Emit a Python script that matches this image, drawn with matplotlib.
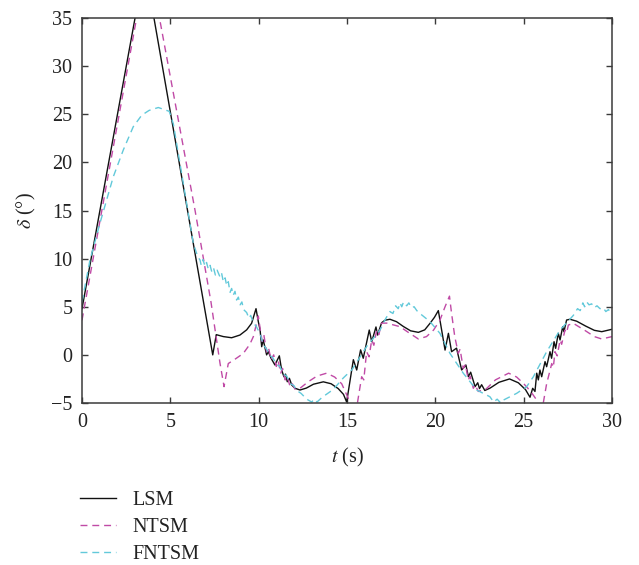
import matplotlib
matplotlib.use("Agg")
import matplotlib.pyplot as plt

plt.rcParams["font.family"] = ["Liberation Serif", "DejaVu Serif"]
plt.rcParams["mathtext.fontset"] = "stix"

# LSM response
lsm_t = [0.0, 3.55, 7.40, 7.60, 8.00, 8.47, 8.94, 9.32, 9.60, 9.85, 9.98, 10.08, 10.17, 10.26,
         10.45, 10.55, 10.70, 10.92, 11.17, 11.30, 11.43, 11.52, 11.62, 11.74, 11.87, 12.06,
         12.34, 12.70, 13.10, 13.66, 14.10, 14.50, 14.80, 14.98, 15.36, 15.55, 15.77, 15.92,
         16.26, 16.40, 16.64, 16.73, 16.96, 17.15, 17.43, 17.80, 18.19, 18.60, 19.04, 19.40,
         19.70, 19.95, 20.17, 20.55, 20.74, 20.92, 21.20, 21.49, 21.73, 21.87, 22.00, 22.25,
         22.40, 22.50, 22.62, 22.80, 23.10, 23.60, 24.20, 24.70, 25.10, 25.36, 25.51, 25.64,
         25.74, 25.83, 25.92, 26.02, 26.21, 26.30, 26.49, 26.58, 26.72, 26.81, 26.96, 27.06,
         27.21, 27.28, 27.43, 27.62, 28.00, 28.50, 29.00, 29.42, 30.00]
lsm_v = [4.8, 40.5, 0.0, 2.1, 1.9, 1.78, 2.06, 2.6, 3.28, 4.8, 3.45, 2.6, 0.85, 1.55,
         0.0, 0.33, -0.35, -1.05, -0.1, -1.57, -2.27, -2.0, -2.79, -2.44, -3.13, -3.47,
         -3.65, -3.45, -3.05, -2.8, -3.0, -3.5, -4.1, -4.9, -0.5, -1.57, 0.52, -0.35,
         2.58, 1.37, 2.9, 2.06, 3.34, 3.6, 3.7, 3.45, 2.95, 2.5, 2.34, 2.6,
         3.28, 3.9, 4.6, 0.5, 2.24, 0.33, 0.7, -1.57, -1.05, -2.27, -1.8, -3.3,
         -2.9, -3.5, -3.1, -3.7, -3.45, -2.85, -2.5, -2.9, -3.6, -4.4, -3.47, -3.8,
         -1.9, -2.6, -1.57, -2.27, -0.7, -1.23, 0.33, -0.35, 1.37, 0.68, 2.24, 1.55,
         2.93, 2.41, 3.62, 3.7, 3.5, 3.0, 2.55, 2.41, 2.66]

# NTSM response
ntsm_t = [0.0, 3.73, 6.40, 7.30, 7.81, 8.04, 8.28, 8.70, 9.13, 9.50, 9.70, 9.98, 10.10, 10.20,
          10.30, 10.45, 10.55, 10.70, 10.85, 11.00, 11.10, 11.25, 11.35, 11.50, 11.60, 11.75,
          11.85, 12.06, 12.34, 12.80, 13.30, 13.85, 14.30, 14.70, 15.07, 15.35, 15.59, 15.83,
          15.95, 16.11, 16.25, 16.40, 16.52, 16.68, 16.80, 16.96, 17.25, 18.00, 18.50, 19.04,
          19.50, 19.90, 20.26, 20.55, 20.80, 20.92, 21.10, 21.30, 21.40, 21.58, 21.70, 21.87,
          21.97, 22.15, 22.25, 22.43, 22.90, 23.40, 24.15, 24.60, 24.98, 25.40, 25.74, 25.92,
          26.11, 26.30, 26.59, 26.68, 26.77, 26.90, 27.06, 27.15, 27.34, 27.43, 27.53, 27.81,
          28.50, 29.00, 29.42, 30.00]
ntsm_v = [3.6, 41.5, 15.0, 5.5, -0.85, -3.3, -0.9, -0.4, 0.15, 1.1, 1.9, 4.04, 2.5, 1.4,
          2.0, 0.3, 0.8, -0.5, 0.0, -1.2, -0.6, -1.9, -1.4, -2.6, -2.2, -3.1,
          -2.8, -3.57, -3.47, -2.8, -2.2, -1.9, -2.3, -3.0, -4.5, -6.8, -5.0, -2.27,
          -2.6, 0.33, -0.2, 1.55, 1.0, 2.58, 2.1, 3.3, 3.3, 2.93, 2.3, 1.65,
          1.9, 2.58, 3.6, 5.0, 6.1, 4.3, 1.9, 0.15, 0.6, -1.4, -1.0, -2.6,
          -2.2, -3.47, -3.1, -3.8, -3.5, -2.6, -1.9, -2.3, -2.95, -3.8, -4.7, -6.8,
          -5.0, -3.0, -0.9, -1.3, 0.33, -0.1, 1.55, 1.1, 2.58, 2.3, 3.1, 3.28,
          2.5, 1.9, 1.65, 1.9]

# FNTSM response
fntsm_t = [0.0, 0.45, 1.02, 1.77, 2.34, 2.90, 3.38, 3.80, 4.32, 4.94, 5.17, 6.30, 6.55, 6.68,
           6.75, 6.85, 6.96, 7.05, 7.15, 7.25, 7.35, 7.45, 7.55, 7.65, 7.81, 7.90, 8.00, 8.10,
           8.19, 8.28, 8.38, 8.47, 8.56, 8.66, 8.75, 8.85, 8.95, 9.05, 9.15, 9.32, 9.45, 9.55,
           9.70, 9.85, 10.08, 10.25, 10.45, 10.60, 10.80, 11.02, 11.20, 11.40, 11.59, 11.80,
           12.00, 12.15, 12.40, 12.72, 13.00, 13.15, 13.30, 13.60, 14.22, 14.79, 15.30, 16.11,
           16.87, 17.20, 17.43, 17.60, 17.75, 17.90, 18.00, 18.10, 18.20, 18.38, 18.50, 18.65,
           18.80, 18.95, 19.13, 19.70, 20.26, 20.83, 21.58, 22.34, 23.09, 23.30, 23.50, 23.70,
           23.85, 24.60, 25.17, 25.55, 26.30, 27.06, 27.81, 28.05, 28.20, 28.35, 28.45, 28.57,
           28.70, 28.85, 29.00, 29.15, 29.32, 29.50, 29.65, 29.80, 29.98]
fntsm_v = [5.5, 9.85, 13.7, 18.5, 21.3, 23.7, 24.9, 25.4, 25.7, 25.3, 24.0, 11.6, 10.2, 9.85,
           9.3, 9.9, 9.2, 9.6, 8.9, 9.3, 8.6, 9.0, 8.3, 8.8, 8.1, 8.5, 7.6, 8.0,
           7.2, 7.6, 6.5, 6.9, 6.2, 6.6, 5.7, 6.0, 5.2, 5.5, 4.7, 4.4, 3.8, 4.1,
           3.3, 3.0, 2.2, 1.1, 0.6, 0.0, -0.3, -1.0, -1.2, -2.0, -2.2, -3.0,
           -3.2, -3.7, -4.0, -4.6, -4.9, -4.6, -4.9, -4.4, -3.6, -2.4, -1.5, 0.87,
           2.58, 3.8, 4.5, 4.3, 5.1, 4.8, 5.4, 5.0, 5.5, 5.1, 5.4, 4.9,
           5.0, 4.6, 4.3, 3.45, 2.24, 0.15, -1.9, -3.65, -4.35, -4.9, -4.6, -5.0,
           -4.7, -4.0, -3.3, -2.27, 0.33, 2.58, 4.1, 4.8, 4.6, 5.4, 5.0, 5.5,
           5.2, 5.3, 4.9, 5.1, 4.8, 4.9, 4.5, 4.7, 4.3]

series_labels = ["LSM", "NTSM", "FNTSM"]
x_ticks = [0, 5, 10, 15, 20, 25, 30]
y_ticks = [-5, 0, 5, 10, 15, 20, 25, 30, 35]

fig = plt.figure(figsize=(6.39, 5.65), dpi=100)
ax = fig.add_axes([82 / 639, 1 - 403 / 565, 530 / 639, 385 / 565])

ax.plot(lsm_t, lsm_v, color="#111111", lw=1.0, label=series_labels[0])
ax.plot(ntsm_t, ntsm_v, color="#C04AA6", lw=1.0, dashes=(5, 3.5), label=series_labels[1])
ax.plot(fntsm_t, fntsm_v, color="#62C9DA", lw=1.0, dashes=(5, 3.5), label=series_labels[2])

ax.set_xlim(0, 30)
ax.set_ylim(-5, 35)
ax.set_xticks(x_ticks)
ax.set_yticks(y_ticks)

for side in ax.spines.values():
    side.set_color("#3a3a3a")
    side.set_linewidth(1.1)
ax.tick_params(direction="in", length=4, width=1, color="#3a3a3a",
               top=True, right=True, labelsize=14.5, pad=7, labelcolor="#222222")

ax.set_xlabel("$t$ (s)", fontsize=14.5, color="#222222", labelpad=10)
ax.set_ylabel(r"$\delta$ (°)", fontsize=14.5, color="#222222", labelpad=9)

fig.legend(loc="upper left", bbox_to_anchor=(80 / 639, 1 - 491 / 565),
           frameon=False, fontsize=14.5, handlelength=1.8, handletextpad=0.8,
           labelspacing=0.4, borderpad=0, borderaxespad=0, labelcolor="#222222")

fig.savefig("out.png", dpi=100)
